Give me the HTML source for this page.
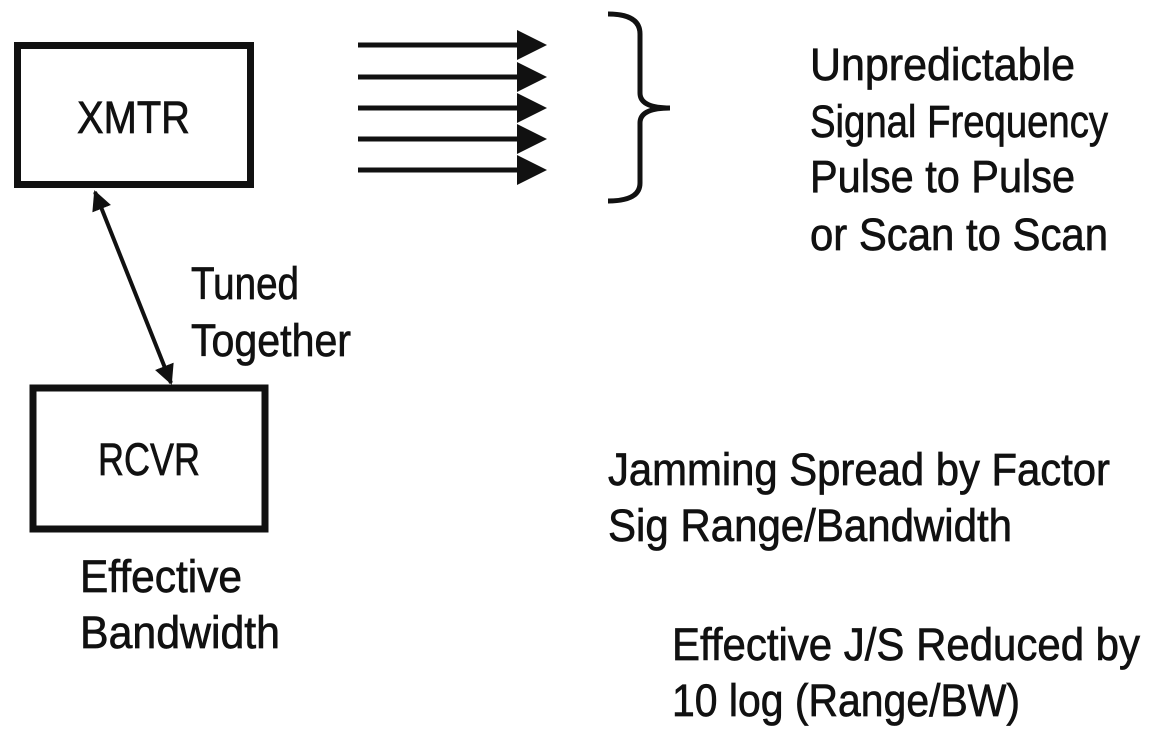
<!DOCTYPE html>
<html><head><meta charset="utf-8"><style>html,body{margin:0;padding:0;background:#fff}</style></head><body>
<svg width="1155" height="741" viewBox="0 0 1155 741" xmlns="http://www.w3.org/2000/svg" font-family="Liberation Sans, sans-serif" font-size="45" fill="#111">
<defs>
<marker id="ah" markerWidth="6" markerHeight="6" refX="5" refY="3" orient="auto" markerUnits="strokeWidth"><path d="M0,0 L6,3 L0,6 z" fill="#111"/></marker>
<marker id="ah2" markerWidth="5" markerHeight="5" refX="4.5" refY="2.5" orient="auto-start-reverse" markerUnits="strokeWidth"><path d="M0,0 L5,2.5 L0,5 z" fill="#111"/></marker>
</defs>
<rect x="17.5" y="45.5" width="233" height="139" fill="none" stroke="#111" stroke-width="7"/>
<rect x="33" y="388" width="232" height="141" fill="none" stroke="#111" stroke-width="7"/>
<g stroke="#111" stroke-width="5" marker-end="url(#ah)">
<line x1="358" y1="45" x2="542" y2="45"/>
<line x1="358" y1="77" x2="542" y2="77"/>
<line x1="358" y1="108" x2="542" y2="108"/>
<line x1="358" y1="139" x2="542" y2="139"/>
<line x1="358" y1="170" x2="542" y2="170"/>
</g>
<line x1="95" y1="192" x2="171" y2="383" stroke="#111" stroke-width="4" marker-start="url(#ah2)" marker-end="url(#ah2)"/>
<path d="M608,14 Q640,14 640,34 L640,93 Q640,108 670,108 Q640,108 640,123 L640,183 Q640,201 608,201" fill="none" stroke="#111" stroke-width="5"/>
<g stroke="#111" stroke-width="0.7">
<text x="77" y="133" textLength="113" lengthAdjust="spacingAndGlyphs">XMTR</text>
<text x="98" y="475" textLength="102" lengthAdjust="spacingAndGlyphs">RCVR</text>
<text x="191" y="299" textLength="108" lengthAdjust="spacingAndGlyphs">Tuned</text>
<text x="191" y="356" textLength="160" lengthAdjust="spacingAndGlyphs">Together</text>
<text x="80" y="592" textLength="162" lengthAdjust="spacingAndGlyphs">Effective</text>
<text x="80" y="648" textLength="200" lengthAdjust="spacingAndGlyphs">Bandwidth</text>
<text x="810" y="80" textLength="265" lengthAdjust="spacingAndGlyphs">Unpredictable</text>
<text x="810" y="137" textLength="298" lengthAdjust="spacingAndGlyphs">Signal Frequency</text>
<text x="810" y="192" textLength="265" lengthAdjust="spacingAndGlyphs">Pulse to Pulse</text>
<text x="810" y="250" textLength="298" lengthAdjust="spacingAndGlyphs">or Scan to Scan</text>
<text x="608" y="485" textLength="502" lengthAdjust="spacingAndGlyphs">Jamming Spread by Factor</text>
<text x="608" y="541" textLength="404" lengthAdjust="spacingAndGlyphs">Sig Range/Bandwidth</text>
<text x="672" y="660" textLength="468" lengthAdjust="spacingAndGlyphs">Effective J/S Reduced by</text>
<text x="672" y="716" textLength="348" lengthAdjust="spacingAndGlyphs">10 log (Range/BW)</text>
</g>
</svg>
</body></html>
